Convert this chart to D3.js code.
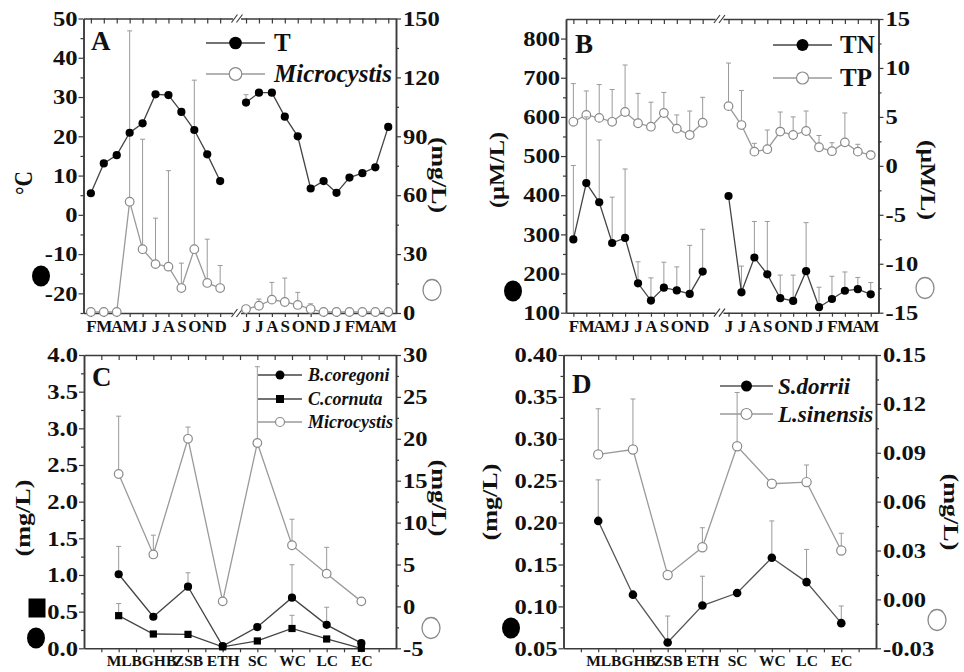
<!DOCTYPE html>
<html>
<head>
<meta charset="utf-8">
<script src="https://cdn.jsdelivr.net/npm/d3@7"></script>
<style>
body { margin: 0; background: #fff; }
svg text { font-family: "Liberation Serif", "Times New Roman", serif; font-weight: bold; fill: #111; }
</style>
</head>
<body>
<script>
// ---- data -------------------------------------------------------------
// months, first year (Feb-Dec) and second year (Jun-May)
var months1 = ["F","M","A","M","J","J","A","S","O","N","D"];
var months2 = ["J","J","A","S","O","N","D","J","F","M","A","M"];

// panel A : water temperature (left) and Microcystis biomass (right)
var tempT    = [5.5,13.1,15.2,20.9,23.3,30.7,30.5,26.2,21.6,15.4,8.6, 28.6,31.1,31.1,25.0,20.0,6.7,8.6,5.6,9.5,10.6,12.1,22.4];
var tempErr  = [0,0,0,0,0,0,0,0,0,0,0, 2.0,0.8,0,0,0,0,0,0,0,0,0,0];
var micA     = [0.5,0.5,0.5,56.7,32.5,24.9,23.6,12.7,32.5,15.3,12.7, 2.0,3.7,6.8,5.6,4.1,2.0,0.5,0.5,0.5,0.5,0.5,0.5];
var micAErr  = [0,0,0,87,56,23.4,48.9,12.7,86.1,22.3,11.5, 0,3.4,8.8,12.2,6.4,2.7,0,0,0,0,0,0];

// panel B : TN (left) and TP (right)
var tn       = [287,431,382,278,291,175,131,164,157,148,205, 398,152,241,198,137,130,206,114,135,156,160,147];
var tnErr    = [189,169,159,117,176,55,58,65,60,124,108, 0,67,92,135,59,66,124,51,58,48,30,30];
var tp       = [4.5,5.2,4.9,4.5,5.5,4.35,4.0,5.4,3.8,3.15,4.4, 6.1,4.17,1.45,1.7,3.5,3.15,3.56,1.9,1.5,2.4,1.45,1.1];
var tpErr    = [3.9,2.45,3.4,3.3,4.8,3.05,2.5,2.1,1.4,2.45,2.6, 4.4,3.53,0.85,1.96,2.0,1.85,2.04,1.2,0.86,3.0,0.75,0.4];

// panels C and D : sites
var sites    = ["ML","BGHB","ZSB","ETH","SC","WC","LC","EC"];
var bCor     = [1.01,0.43,0.84,0.03,0.29,0.69,0.32,0.07];
var bCorErr  = [0.38,0,0.19,0,0,0.45,0.24,0];
var cCor     = [0.445,0.195,0.19,0.02,0.10,0.27,0.127,0.0];
var cCorErr  = [0.165,0,0,0,0,0.18,0,0];
var micC     = [15.8,6.2,20.0,0.6,19.5,7.3,3.9,0.6];
var micCErr  = [6.9,2.3,1.4,0,9.1,3.1,3.15,0];
var sDor     = [0.202,0.114,0.057,0.101,0.116,0.158,0.129,0.080];
var sDorErr  = [0.049,0,0.0315,0.035,0,0.044,0.039,0.0205];
var lSin     = [0.089,0.092,0.015,0.032,0.094,0.071,0.072,0.030];
var lSinErr  = [0.028,0.031,0,0.012,0.033,0,0.0105,0.0106];

// ---- setup ------------------------------------------------------------
var svg = d3.select("body").append("svg").attr("width", 964).attr("height", 672);

var SERIF = '"Liberation Serif", "Times New Roman", serif';
var AX = "#3a3a3a", DARK = "#444", GREY = "#9a9a9a", OPEN = "#8a8a8a";

// month positions: gap of one slot between the two years
var monthIdx = months1.map(function(m, i) { return i; })
    .concat(months2.map(function(m, i) { return 12 + i; }));
var monthLab = months1.concat(months2);

function stretch(sel, k) {
  sel.each(function() {
    var w = this.getComputedTextLength();
    d3.select(this).attr("textLength", w * k).attr("lengthAdjust", "spacingAndGlyphs");
  });
}

function frame(p, yl, yr, o) {
  var g = svg.append("g");
  var l = g.append("g").attr("transform", "translate(" + p.l + ",0)")
      .call(d3.axisLeft(yl).tickValues(o.lt).tickSize(5).tickSizeOuter(0).tickPadding(1).tickFormat(o.lf));
  g.append("g").attr("transform", "translate(" + p.l + ",0)")
      .call(d3.axisLeft(yl).tickValues(o.lm).tickSize(3).tickSizeOuter(0).tickFormat(""));
  var r = g.append("g").attr("transform", "translate(" + p.r + ",0)")
      .call(d3.axisRight(yr).tickValues(o.rt).tickSize(5).tickSizeOuter(0).tickPadding(2).tickFormat(o.rf));
  g.append("g").attr("transform", "translate(" + p.r + ",0)")
      .call(d3.axisRight(yr).tickValues(o.rm).tickSize(3).tickSizeOuter(0).tickFormat(""));
  var b = g.append("g").attr("transform", "translate(0," + p.b + ")")
      .call(d3.axisBottom(o.x).tickValues(o.bt).tickSize(4).tickSizeOuter(0).tickPadding(3).tickFormat(o.bf));
  g.append("g").attr("transform", "translate(0," + p.t + ")")
      .call(d3.axisTop(o.x).tickValues(o.tt).tickSize(-5).tickSizeOuter(0).tickFormat(""));

  g.selectAll("g").attr("font-family", null).attr("font-size", null);
  g.selectAll("path.domain").attr("stroke", AX).attr("stroke-width", 1.5);
  g.selectAll(".tick line").attr("stroke", AX).attr("stroke-width", 1.2);
  g.selectAll("text").style("font-family", SERIF).style("font-weight", "bold").attr("fill", "#111");
  l.selectAll("text").style("font-size", "21px");
  r.selectAll("text").style("font-size", "21px");
  b.selectAll("text").style("font-size", o.bsize);
  stretch(l.selectAll("text"), 1.17);
  stretch(r.selectAll("text"), 1.17);
  return g;
}

function axisBreak(x, p) {
  [p.t, p.b].forEach(function(yy) {
    svg.append("rect").attr("x", x - 4).attr("y", yy - 3).attr("width", 8).attr("height", 6).attr("fill", "#fff");
    [-2.5, 2.5].forEach(function(dx) {
      svg.append("line").attr("x1", x + dx - 3).attr("y1", yy + 4).attr("x2", x + dx + 3).attr("y2", yy - 4)
          .attr("stroke", AX).attr("stroke-width", 1.2);
    });
  });
}

function marker(g, type, x, y, s) {
  if (type === "square") {
    g.append("rect").attr("x", x - s).attr("y", y - s).attr("width", 2 * s).attr("height", 2 * s).attr("fill", "#000");
  } else if (type === "fill") {
    g.append("circle").attr("cx", x).attr("cy", y).attr("r", s).attr("fill", "#000");
  } else {
    g.append("circle").attr("cx", x).attr("cy", y).attr("r", s).attr("fill", "#fff")
        .attr("stroke", OPEN).attr("stroke-width", 1.2);
  }
}

// series: xs in pixels, vs values, es upward error, segs = line pieces
function series(xs, vs, es, y, type, lineColor, segs, size) {
  var g = svg.append("g");
  var d = xs.map(function(x, i) { return {x: x, v: vs[i], e: es ? es[i] : 0}; });
  d.forEach(function(p) {
    if (!p.e) return;
    var y0 = y(p.v), y1 = y(p.v + p.e);
    g.append("line").attr("x1", p.x).attr("x2", p.x).attr("y1", y0).attr("y2", y1)
        .attr("stroke", GREY).attr("stroke-width", 1);
    g.append("line").attr("x1", p.x - 2.5).attr("x2", p.x + 2.5).attr("y1", y1).attr("y2", y1)
        .attr("stroke", GREY).attr("stroke-width", 1);
  });
  var line = d3.line().x(function(p) { return p.x; }).y(function(p) { return y(p.v); });
  segs.forEach(function(s) {
    g.append("path").attr("d", line(d.slice(s[0], s[1]))).attr("fill", "none")
        .attr("stroke", lineColor).attr("stroke-width", 1.3);
  });
  d.forEach(function(p) { marker(g, type, p.x, y(p.v), size); });
}

function legend(items, x0, x1, tx, fs, italic) {
  var g = svg.append("g");
  items.forEach(function(it) {
    g.append("line").attr("x1", x0).attr("x2", x1).attr("y1", it.y).attr("y2", it.y)
        .attr("stroke", it.c).attr("stroke-width", 1.3);
    marker(g, it.type, (x0 + x1) / 2, it.y, it.s);
    g.append("text").attr("x", tx).attr("y", it.y + fs * 0.33).style("font-size", fs + "px")
        .style("font-style", italic ? "italic" : "normal").text(it.label);
  });
}

function title(txt, cx, cy, rot, len, fs) {
  svg.append("text").attr("transform", "translate(" + cx + "," + cy + ") rotate(" + rot + ")")
      .attr("text-anchor", "middle").attr("dy", "0.35em").style("font-size", (fs || 21) + "px")
      .attr("textLength", len).attr("lengthAdjust", "spacingAndGlyphs").text(txt);
}

function letter(txt, x, y) {
  svg.append("text").attr("x", x).attr("y", y).style("font-size", "27px").text(txt);
}

function bigSym(type, x, y) {
  if (type === "square") {
    svg.append("rect").attr("x", x - 8.5).attr("y", y - 9.5).attr("width", 17).attr("height", 19).attr("fill", "#000");
  } else {
    svg.append("ellipse").attr("cx", x).attr("cy", y).attr("rx", 9).attr("ry", 10.5)
        .attr("fill", type === "fill" ? "#000" : "#fff").attr("stroke", type === "fill" ? "none" : OPEN)
        .attr("stroke-width", 1.3);
  }
}

var str = function(d) { return String(d); };
var segMonths = [[0, 11], [11, 23]];

// ---- panel A ----------------------------------------------------------
var pA = {l: 83.5, r: 396, t: 18.5, b: 313};
var xA = d3.scaleLinear().domain([-0.57, 23.6]).range([pA.l, pA.r]);
var yA = d3.scaleLinear().domain([-25, 50]).range([pA.b, pA.t]);
var yA2 = d3.scaleLinear().domain([0, 150]).range([pA.b, pA.t]);
frame(pA, yA, yA2, {
  lt: d3.range(-20, 51, 10), lm: d3.range(-25, 50, 10), lf: str,
  rt: d3.range(0, 151, 30), rm: d3.range(15, 150, 30), rf: str,
  x: xA, bt: monthIdx, tt: monthIdx, bsize: "17px",
  bf: function(d) { return monthLab[monthIdx.indexOf(d)]; }
});
axisBreak(xA(11.3), pA);
var pxA = monthIdx.map(function(i) { return xA(i); });
series(pxA, micA, micAErr, yA2, "open", GREY, segMonths, 4.3);
series(pxA, tempT, tempErr, yA, "fill", DARK, segMonths, 4.1);
legend([{y: 43, type: "fill", c: DARK, s: 6.3, label: "T"}], 206, 265, 274, 25, false);
legend([{y: 74, type: "open", c: GREY, s: 6.3, label: "Microcystis"}], 206, 265, 274, 25, true);
letter("A", 91, 50);
title("°C", 23, 183, -90, 24, 25);
title("(mg/L)", 439, 175, 90, 76);
bigSym("fill", 41, 276);
bigSym("open", 432, 290);

// ---- panel B ----------------------------------------------------------
var pB = {l: 566, r: 878.5, t: 19, b: 312.7};
var xB = d3.scaleLinear().domain([-0.57, 23.6]).range([pB.l, pB.r]);
var yB = d3.scaleLinear().domain([100, 850]).range([pB.b, pB.t]);
var yB2 = d3.scaleLinear().domain([-15, 15]).range([pB.b, pB.t]);
frame(pB, yB, yB2, {
  lt: d3.range(100, 801, 100), lm: d3.range(150, 850, 100), lf: str,
  rt: d3.range(-15, 16, 5), rm: d3.range(-12.5, 15, 5), rf: str,
  x: xB, bt: monthIdx, tt: monthIdx, bsize: "17px",
  bf: function(d) { return monthLab[monthIdx.indexOf(d)]; }
});
axisBreak(xB(11.3), pB);
var pxB = monthIdx.map(function(i) { return xB(i); });
series(pxB, tp, tpErr, yB2, "open", GREY, segMonths, 4.3);
series(pxB, tn, tnErr, yB, "fill", DARK, segMonths, 4.1);
legend([{y: 45, type: "fill", c: DARK, s: 6, label: "TN"},
        {y: 78, type: "open", c: GREY, s: 6, label: "TP"}], 773, 832, 840, 25, false);
letter("B", 575, 53);
title("(μM/L)", 497, 170, -90, 76);
title("(μM/L)", 928, 180, 90, 80);
bigSym("fill", 513, 291);
bigSym("open", 925, 288);

// ---- panels C and D: shared site axis -----------------------------------
function siteFrame(p, yl, yr, o) {
  var xs = d3.scalePoint().domain(sites).range([p.l, p.r]).padding(1);
  var xl = d3.scaleLinear().domain([-1, 8]).range([p.l, p.r]);
  var half = d3.range(-0.5, 8, 0.5);
  o.x = xl; o.bt = half; o.tt = half; o.bsize = "15.5px";
  o.bf = function(d) { return Number.isInteger(d) && d >= 0 ? sites[d] : ""; };
  frame(p, yl, yr, o);
  return sites.map(function(s) { return xs(s); });
}

// ---- panel C ----------------------------------------------------------
var pC = {l: 84, r: 396, t: 355, b: 648.3};
var yC = d3.scaleLinear().domain([0, 4]).range([pC.b, pC.t]);
var yC2 = d3.scaleLinear().domain([-5, 30]).range([pC.b, pC.t]);
var pxC = siteFrame(pC, yC, yC2, {
  lt: d3.range(0, 4.01, 0.5), lm: d3.range(0.25, 4, 0.5), lf: function(d) { return d.toFixed(1); },
  rt: d3.range(-5, 31, 5), rm: d3.range(-2.5, 30, 5), rf: str
});
series(pxC, micC, micCErr, yC2, "open", GREY, [[0, 8]], 4.3);
series(pxC, cCor, cCorErr, yC, "square", DARK, [[0, 8]], 3.6);
series(pxC, bCor, bCorErr, yC, "fill", DARK, [[0, 8]], 4.1);
legend([{y: 375, type: "fill", c: DARK, s: 4.5, label: "B.coregoni"},
        {y: 399, type: "square", c: DARK, s: 4, label: "C.cornuta"},
        {y: 422, type: "open", c: GREY, s: 4.5, label: "Microcystis"}], 258, 302, 308, 18, true);
letter("C", 92, 386);
title("(mg/L)", 23, 518, -90, 77);
title("(mg/L)", 439, 498, 90, 77);
bigSym("square", 37, 608);
bigSym("fill", 36, 638);
bigSym("open", 431, 628);

// ---- panel D ----------------------------------------------------------
var pD = {l: 563.5, r: 876, t: 355, b: 648.3};
var yD = d3.scaleLinear().domain([0.05, 0.40]).range([pD.b, pD.t]);
var yD2 = d3.scaleLinear().domain([-0.03, 0.15]).range([pD.b, pD.t]);
var pxD = siteFrame(pD, yD, yD2, {
  lt: d3.range(0.05, 0.401, 0.05), lm: d3.range(0.075, 0.4, 0.05), lf: function(d) { return d.toFixed(2); },
  rt: d3.range(-0.03, 0.151, 0.03), rm: d3.range(-0.015, 0.15, 0.03), rf: function(d) { return d.toFixed(2); }
});
series(pxD, lSin, lSinErr, yD2, "open", GREY, [[0, 8]], 4.6);
series(pxD, sDor, sDorErr, yD, "fill", "#555", [[0, 8]], 4.3);
legend([{y: 386, type: "fill", c: "#555", s: 5.5, label: "S.dorrii"},
        {y: 414, type: "open", c: GREY, s: 5.5, label: "L.sinensis"}], 720, 773, 778, 23, true);
letter("D", 572, 393);
title("(mg/L)", 490, 502, -90, 77);
title("(mg/L)", 951, 512, 90, 77);
bigSym("fill", 511, 628);
bigSym("open", 937, 620);
</script>
</body>
</html>
